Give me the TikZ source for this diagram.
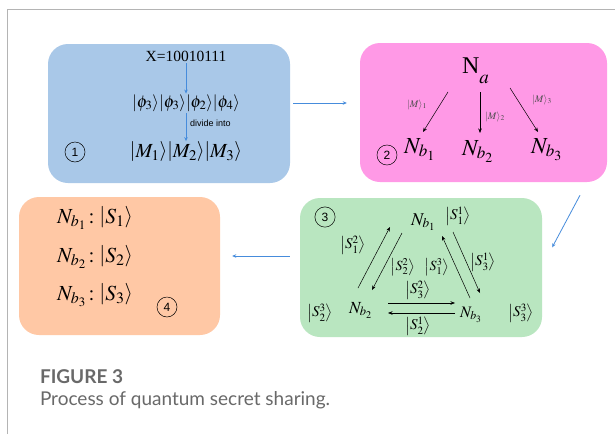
\documentclass[tikz,border=0pt]{standalone}
\usepackage{mathptmx}
\usepackage{fontspec}
\setmainfont{Liberation Serif}
\newfontfamily\capfont{Lato}
\newfontfamily\labfont{Liberation Sans}
\usetikzlibrary{arrows.meta}
\definecolor{bluebox}{RGB}{169,200,232}
\definecolor{pinkbox}{RGB}{255,153,230}
\definecolor{orangebox}{RGB}{255,200,165}
\definecolor{greenbox}{RGB}{185,230,192}
\definecolor{arrblue}{RGB}{70,140,220}
\definecolor{framecol}{RGB}{180,180,180}
\definecolor{capgray}{RGB}{105,105,105}
\tikzset{
  panel/.style={rounded corners=20pt, draw=none},
  barrow/.style={draw=arrblue, line width=0.8pt, -{Stealth[length=4pt,width=3.5pt]}},
  karrow/.style={draw=black, line width=0.5pt, -{Stealth[length=4.5pt,width=3.5pt]}},
  circnum/.style={circle, draw, line width=0.5pt, minimum size=15pt, font=\labfont\fontsize{12}{12}\selectfont},
  txt/.style={inner sep=0pt, outer sep=0pt},
  gket/.style={txt, font=\fontsize{15}{17}\selectfont}
}
\begin{document}
\begin{tikzpicture}[x=1pt,y=-1pt]
\useasboundingbox (0,0) rectangle (615,434);
\fill[white] (0,0) rectangle (615,434);
\draw[framecol, line width=1pt] (7,434) -- (7,9) -- (615,9);

% panels
\node[panel, fill=bluebox, minimum width=242pt, minimum height=139pt] (p1) at (169,113.5) {};
\node[panel, fill=pinkbox, minimum width=247pt, minimum height=139pt] (p2) at (483.5,112.5) {};
\node[panel, fill=greenbox, minimum width=242pt, minimum height=139pt] (p3) at (421,267.5) {};
\node[panel, fill=orangebox, minimum width=201pt, minimum height=138pt] (p4) at (119.5,266) {};

% panel connectors
\draw[barrow] ([shift={(3,-10.5)}]p1.east) -- ([shift={(-13,-9.5)}]p2.west);
\draw[barrow] ([shift={(96.5,13)}]p2.south) -- ([shift={(10,49.5)}]p3.north east);
\draw[barrow] ([shift={(-10,-11.5)}]p3.west) -- ([shift={(12,-10)}]p4.east);

% panel 1
\node[txt, font=\fontsize{15.5}{17}\selectfont] (x) at (186,56) {X=10010111};
\node[txt, font=\fontsize{17}{19}\selectfont] (phi) at (186,103) {$\left|\phi_3\right\rangle\!\left|\phi_3\right\rangle\!\left|\phi_2\right\rangle\!\left|\phi_4\right\rangle$};
\node[txt, font=\fontsize{20}{22}\selectfont] (m) at (186,152) {$\left|M_1\right\rangle\!\left|M_2\right\rangle\!\left|M_3\right\rangle$};
\draw[barrow, line width=0.6pt, shorten <=2pt, shorten >=1pt] (x) -- (phi);
\draw[barrow, line width=0.6pt, shorten <=2pt, shorten >=1pt] (phi) -- (m);
\node[txt, anchor=west, font=\labfont\fontsize{9}{10}\selectfont] (div) at (190,123) {divide into};
\node[circnum] (c1) at (75,152) {1};

% panel 2
\node[txt, anchor=base west, font=\fontsize{24}{26}\selectfont] (na) at (462,73) {N\raisebox{-10pt}{\fontsize{19}{19}\selectfont$a$}};
\node[txt, anchor=base west, font=\fontsize{23}{26}\selectfont] (nb1) at (404,153) {$N_{b_1}$};
\node[txt, anchor=base west, font=\fontsize{23}{26}\selectfont] (nb2) at (462,155) {$N_{b_2}$};
\node[txt, anchor=base west, font=\fontsize{23}{26}\selectfont] (nb3) at (531,153) {$N_{b_3}$};
\coordinate (a1s) at (448,92); \coordinate (a1e) at (423,132);
\coordinate (a2s) at (480,92); \coordinate (a2e) at (480,133);
\coordinate (a3s) at (510,88); \coordinate (a3e) at (538,132);
\draw[karrow] (a1s) -- (a1e);
\draw[karrow] (a2s) -- (a2e);
\draw[karrow] (a3s) -- (a3e);
\node[txt, font=\fontsize{10}{11}\selectfont, text=black!70] (l1) at (417,105) {$|M\rangle_{1}$};
\node[txt, font=\fontsize{10}{11}\selectfont, text=black!70] (l2) at (495,117) {$|M\rangle_{2}$};
\node[txt, font=\fontsize{10}{11}\selectfont, text=black!70] (l3) at (542,100) {$|M\rangle_{3}$};
\node[circnum] (c2) at (387,155) {2};

% panel 3
\node[circnum] (c3) at (325,217) {3};
\node[txt, anchor=base west, font=\fontsize{18}{20}\selectfont] (g1) at (411,225) {$N_{b_1}$};
\node[txt, anchor=base west, font=\fontsize{17}{20}\selectfont] (g2) at (349,313) {$N_{b_2}$};
\node[txt, anchor=base west, font=\fontsize{16}{20}\selectfont] (g3) at (460,317) {$N_{b_3}$};
\node[gket] (s11) at (458,216) {$\left|S_1^1\right\rangle$};
\node[gket] (s23) at (320,313) {$\left|S_2^3\right\rangle$};
\node[gket] (s33) at (521,313) {$\left|S_3^3\right\rangle$};
\node[gket] (s12) at (353,245) {$\left|S_1^2\right\rangle$};
\node[gket, font=\fontsize{14}{16}\selectfont] (s22) at (403,267) {$\left|S_2^2\right\rangle$};
\node[gket, font=\fontsize{14}{16}\selectfont] (s13) at (437,267) {$\left|S_1^3\right\rangle$};
\node[gket] (s31) at (483,262) {$\left|S_3^1\right\rangle$};
\node[gket] (s32) at (418,290) {$\left|S_3^2\right\rangle$};
\node[gket] (s21) at (418,326) {$\left|S_2^1\right\rangle$};
\coordinate (e1s) at (358,288); \coordinate (e1e) at (390,227);
\coordinate (e2s) at (402,233); \coordinate (e2e) at (372,290);
\coordinate (e3s) at (470,298); \coordinate (e3e) at (442,236);
\coordinate (e4s) at (453,232); \coordinate (e4e) at (480,293);
\coordinate (e5s) at (388,303); \coordinate (e5e) at (455,303);
\coordinate (e6s) at (455,313); \coordinate (e6e) at (388,313);
\draw[karrow] (e1s) -- (e1e);
\draw[karrow] (e2s) -- (e2e);
\draw[karrow] (e3s) -- (e3e);
\draw[karrow] (e4s) -- (e4e);
\draw[karrow] (e5s) -- (e5e);
\draw[karrow] (e6s) -- (e6e);

% panel 4
\node[txt, anchor=base west, font=\fontsize{21.5}{24}\selectfont] (r1) at (57,223) {$N_{b_1}\,{:}\,\left|S_1\right\rangle$};
\node[txt, anchor=base west, font=\fontsize{21.5}{24}\selectfont] (r2) at (57,262) {$N_{b_2}\,{:}\,\left|S_2\right\rangle$};
\node[txt, anchor=base west, font=\fontsize{21.5}{24}\selectfont] (r3) at (57,300) {$N_{b_3}\,{:}\,\left|S_3\right\rangle$};
\node[circnum] (c4) at (167,307) {4};

% caption
\node[txt, anchor=base west, font=\capfont\bfseries\fontsize{19}{21}\selectfont, text=capgray] (fig) at (40,383) {FIGURE 3};
\node[txt, anchor=base west, font=\capfont\fontsize{19}{21}\selectfont, text=capgray] (cap) at (40,405) {Process of quantum secret sharing.};
\end{tikzpicture}
\end{document}
